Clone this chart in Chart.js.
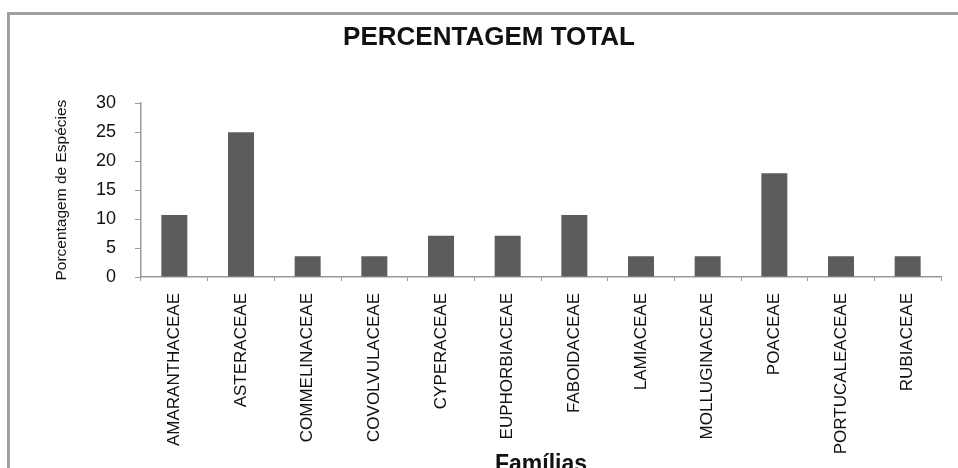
<!DOCTYPE html>
<html>
<head>
<meta charset="utf-8">
<script src="https://cdn.jsdelivr.net/npm/chart.js@4"></script>
<style>
  html, body { margin: 0; padding: 0; background: #fff; overflow: hidden; }
  #wrap { position: absolute; left: 0; top: 0; width: 958px; height: 490px; }
</style>
</head>
<body>
<div id="wrap"><canvas id="grafico"></canvas></div>
<script>
// Famílias e percentagem de espécies
const familias = [
  'AMARANTHACEAE', 'ASTERACEAE', 'COMMELINACEAE', 'COVOLVULACEAE',
  'CYPERACEAE', 'EUPHORBIACEAE', 'FABOIDACEAE', 'LAMIACEAE',
  'MOLLUGINACEAE', 'POACEAE', 'PORTUCALEACEAE', 'RUBIACEAE',
];
const percentagem = [10.7, 25, 3.6, 3.6, 7.1, 7.1, 10.7, 3.6, 3.6, 17.9, 3.6, 3.6];
const yTicks = [0, 5, 10, 15, 20, 25, 30];

const fonte = "'Liberation Sans', Arial, sans-serif";
const cinza = '#9a9a9a';

// moldura: só a linha de cima e a da esquerda (o resto fica fora da imagem)
const moldura = {
  id: 'moldura',
  beforeDraw(chart) {
    const { ctx, width, height } = chart;
    ctx.save();
    ctx.lineWidth = 3;
    ctx.strokeStyle = '#a0a0a0';
    ctx.beginPath();
    ctx.moveTo(8.5, height + 10);
    ctx.lineTo(8.5, 13.5);
    ctx.lineTo(width + 10, 13.5);
    ctx.stroke();
    ctx.restore();
  },
};

new Chart(document.getElementById('grafico'), {
  type: 'bar',
  data: {
    labels: familias,
    datasets: [
      {
        data: percentagem,
        backgroundColor: '#5c5c5c',
        barPercentage: 0.39,
        categoryPercentage: 1,
      },
    ],
  },
  options: {
    responsive: true,
    maintainAspectRatio: false,
    animation: false,
    layout: {
      padding: { left: 37, right: 17, top: 0, bottom: 0 },
    },
    plugins: {
      legend: { display: false },
      tooltip: { enabled: false },
      title: {
        display: true,
        text: 'PERCENTAGEM TOTAL',
        color: '#111',
        font: { family: fonte, size: 26, weight: 'bold' },
        padding: { top: 22, bottom: 50 },
      },
    },
    scales: {
      x: {
        afterFit(scale) {
          scale.height = 213;
        },
        ticks: {
          color: '#111',
          minRotation: 90,
          maxRotation: 90,
          autoSkip: false,
          padding: 12,
          font: { family: fonte, size: 17 },
        },
        grid: {
          display: true,
          drawOnChartArea: false,
          drawTicks: true,
          tickLength: 4,
          color: cinza,
        },
        border: { display: true, color: cinza, width: 1.5 },
        title: {
          display: true,
          text: 'Famílias',
          color: '#111',
          font: { family: fonte, size: 23, weight: 'bold' },
          padding: { top: 0, bottom: 12 },
        },
      },
      y: {
        min: 0,
        max: 30,
        afterFit(scale) {
          scale.width = 104;
        },
        afterBuildTicks(scale) {
          scale.ticks = yTicks.map((v) => ({ value: v }));
        },
        ticks: {
          color: '#111',
          padding: 19,
          font: { family: fonte, size: 18 },
        },
        grid: {
          display: true,
          drawOnChartArea: false,
          drawTicks: true,
          tickLength: 6,
          color: cinza,
        },
        border: { display: true, color: cinza, width: 1.5 },
        title: {
          display: true,
          text: 'Porcentagem de Espécies',
          color: '#111',
          font: { family: fonte, size: 15.5 },
          padding: { top: 15, bottom: 0 },
        },
      },
    },
  },
  plugins: [moldura],
});
</script>
</body>
</html>
